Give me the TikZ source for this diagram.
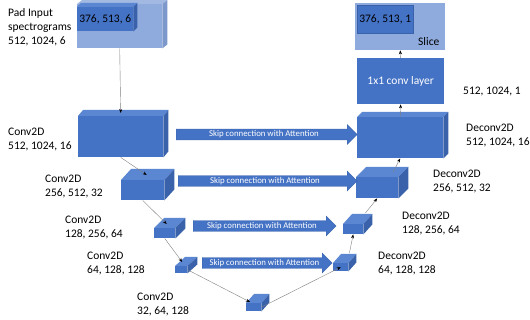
\documentclass[tikz,border=0pt]{standalone}
\usepackage{fontspec}
\setmainfont{Carlito}
\usetikzlibrary{arrows.meta,shapes.arrows}

\definecolor{unetblue}{HTML}{4472C4}
\definecolor{unettop}{HTML}{5A86D2}
\definecolor{unetside}{HTML}{3A62AB}
\definecolor{padblue}{HTML}{8FAADC}
\definecolor{padtop}{HTML}{A2B9E2}
\definecolor{padside}{HTML}{7D98CA}

% top and right faces of a block: colour prefix, node, depth x, depth y
\newcommand{\blockfaces}[4][unet]{%
  \fill[#1top] (#2.north west) -- ++(#3,#4) -- ([shift={(#3,#4)}]#2.north east) -- (#2.north east) -- cycle;
  \fill[#1side] (#2.north east) -- ++(#3,#4) -- ([shift={(#3,#4)}]#2.south east) -- (#2.south east) -- cycle;
}

\begin{document}
\begin{tikzpicture}[
    x=1pt, y=-1pt,
    block/.style={fill=unetblue, inner sep=0pt, anchor=north west,
                  font=\fontsize{11.5}{14}\selectfont},
    lbl/.style={align=left, anchor=west, inner sep=0pt,
                font=\fontsize{11.5}{14}\selectfont},
    skiparrow/.style={single arrow, fill=unetblue, draw=unetside, line width=0.3pt,
                      text=white, font=\fontsize{8.8}{9}\selectfont,
                      single arrow head extend=4.5pt, inner ysep=1.5pt, inner xsep=2pt,
                      anchor=tail, minimum height=#1},
    conn/.style={-{Stealth[length=4pt,width=3pt,black]}, draw=black!50, line width=0.4pt},
  ]
  \useasboundingbox (0,0) rectangle (530,320);

  % input
  \node[block, fill=padblue, minimum width=85pt, minimum height=44pt] (pad) at (77,4) {};
  \blockfaces[pad]{pad}{5}{-4}
  \node[block, minimum width=56pt, minimum height=24pt] (padin) at (77,7) {376, 513, 6};
  \blockfaces{padin}{4}{-4}
  \node[lbl] (padlbl) at (8,27) {Pad Input\\spectrograms\\512, 1024, 6};

  % encoder
  \node[block, minimum width=85pt, minimum height=41pt] (c1) at (78,116) {};
  \blockfaces{c1}{5}{-6}
  \node[block, minimum width=43pt, minimum height=20pt] (c2) at (121,180) {};
  \blockfaces{c2}{10}{-11}
  \node[block, minimum width=21pt, minimum height=10pt] (c3) at (154,228) {};
  \blockfaces{c3}{10}{-10}
  \node[block, minimum width=12pt, minimum height=7pt] (c4) at (175,266) {};
  \blockfaces{c4}{10}{-9}
  \node[block, minimum width=15pt, minimum height=8pt] (c5) at (246,303) {};
  \blockfaces{c5}{8}{-9}

  \node[lbl] (c1lbl) at (8,139.5) {Conv2D\\512, 1024, 16};
  \node[lbl] (c2lbl) at (45,187) {Conv2D\\256, 512, 32};
  \node[lbl] (c3lbl) at (65,228) {Conv2D\\128, 256, 64};
  \node[lbl] (c4lbl) at (87,263.5) {Conv2D\\64, 128, 128};
  \node[lbl] (c5lbl) at (137,305) {Conv2D\\32, 64, 128};

  % decoder
  \node[block, minimum width=86pt, minimum height=41pt] (d1) at (357,117) {};
  \blockfaces{d1}{5}{-5}
  \node[block, minimum width=42pt, minimum height=21pt] (d2) at (356,177) {};
  \blockfaces{d2}{10}{-10}
  \node[block, minimum width=20pt, minimum height=10pt] (d3) at (343,224) {};
  \blockfaces{d3}{9}{-10}
  \node[block, minimum width=15pt, minimum height=8pt] (d4) at (333,263) {};
  \blockfaces{d4}{8}{-9}

  \node[lbl] (d1lbl) at (466,136) {Deconv2D\\512, 1024, 16};
  \node[lbl] (d2lbl) at (433,182) {Deconv2D\\256, 512, 32};
  \node[lbl] (d3lbl) at (402,224) {Deconv2D\\128, 256, 64};
  \node[lbl] (d4lbl) at (378,264) {Deconv2D\\64, 128, 128};

  % output
  \node[block, minimum width=87pt, minimum height=46pt, text=white] (onebyone) at (357,58) {1x1 conv layer};
  \node[lbl] (outlbl) at (463,92) {512, 1024, 1};
  \node[block, fill=padblue, minimum width=90pt, minimum height=47pt] (slice) at (355,3) {};
  \node[block, draw=unetside, minimum width=56pt, minimum height=28pt] (slicein) at (357,5) {376, 513, 1};
  \node[lbl] (slicelbl) at (418,42) {Slice};

  % skip connections
  \node[skiparrow=181pt] (s1) at (176,134.5) {Skip connection with Attention};
  \node[skiparrow=179pt] (s2) at (178,181) {Skip connection with Attention};
  \node[skiparrow=143pt] (s3) at (193,226) {Skip connection with Attention};
  \node[skiparrow=130pt] (s4) at (202,263) {Skip connection with Attention};

  % data flow
  \draw[conn] (pad.south) -- ([yshift=3pt]c1.north);
  \draw[conn] (c1.south) -- ([shift={(4,-5)}]c2.north);
  \draw[conn] (c2.south) -- ([shift={(2,-4)}]c3.north);
  \draw[conn] (c3.south) -- ([shift={(1,-4)}]c4.north);
  \draw[conn] (c4.east) -- ([shift={(4,-1)}]c5.north west);
  \draw[conn] (c5.east) -- (d4.center);
  \draw[conn] ([shift={(1,-10)}]d4.north east) -- (d3.south);
  \draw[conn] ([shift={(2,-11)}]d3.north east) -- (d2.south);
  \draw[conn] ([shift={(16,-5)}]d2.north) -- (d1.south);
  \draw[conn] (d1.north) -- (onebyone.south);
  \draw[conn] (onebyone.north) -- (slice.south);
\end{tikzpicture}
\end{document}
